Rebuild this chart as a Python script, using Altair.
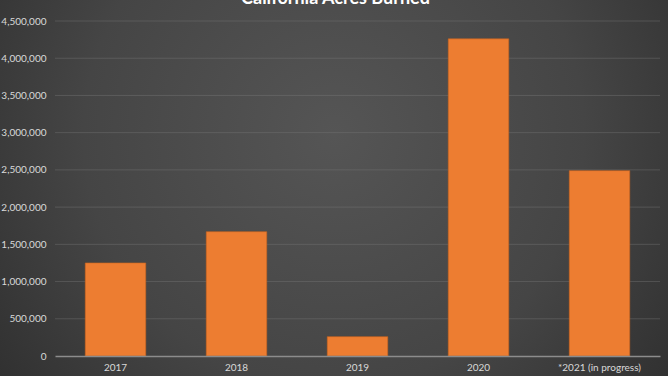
import altair as alt
import pandas as pd

years = ["2017", "2018", "2019", "2020", "*2021 (in progress)"]
acres = [1250000, 1670000, 260000, 4260000, 2490000]
grid_values = [500000, 1000000, 1500000, 2000000, 2500000, 3000000, 3500000, 4000000, 4500000]

df = pd.DataFrame({"year": years, "acres": acres})
gdf = pd.DataFrame({"v": grid_values})

W, H = 605, 335

bg = alt.Chart(pd.DataFrame({"a": [0]})).mark_rect(
    fill=alt.Gradient(
        gradient="radial",
        x1=0.5, y1=0.42, r1=0,
        x2=0.5, y2=0.42, r2=0.75,
        stops=[
            alt.GradientStop(color="#555555", offset=0),
            alt.GradientStop(color="#454545", offset=0.5),
            alt.GradientStop(color="#262626", offset=1),
        ],
    )
).encode(
    x=alt.value(-55), x2=alt.value(W + 8),
    y=alt.value(-21), y2=alt.value(H + 20),
)

yscale = alt.Scale(domain=[0, 4500000], nice=False)
yaxis = alt.Axis(values=list(range(0, 4500001, 500000)),
                 labelExpr="format(datum.value, ',.0f')",
                 labelColor="#d9d9d9", labelFont="Lato", labelFontSize=10,
                 ticks=False, domain=False, grid=False,
                 labelPadding=9, zindex=1)

grid = alt.Chart(gdf).mark_rule(color="#7a7a7a", opacity=0.4, strokeWidth=1).encode(
    y=alt.Y("v:Q", scale=yscale, axis=yaxis, title=None)
)

bars = alt.Chart(df).mark_bar(
    color="#ED7D31", stroke="#c8631f", strokeWidth=0.6
).encode(
    x=alt.X("year:N", sort=years, title=None,
            scale=alt.Scale(paddingInner=0.5, paddingOuter=0.25),
            axis=alt.Axis(labelAngle=0, labelColor="#d9d9d9", labelFont="Lato",
                          labelFontSize=10, ticks=False, domainColor="#8c8c8c",
                          domainWidth=1.5, labelPadding=6, zindex=1)),
    y=alt.Y("acres:Q", title=None, scale=yscale, axis=yaxis),
)

chart = alt.layer(bg, grid, bars).properties(
    width=W, height=H,
    title=alt.TitleParams("California Acres Burned", color="#ffffff", font="Lato",
                          fontSize=18, fontWeight="bold", frame="group",
                          anchor="middle", offset=-8, dx=-22, zindex=1),
    autosize=alt.AutoSizeParams(type="none"),
    padding={"left": 55, "top": 21, "right": 8, "bottom": 20},
    background="#2a2a2a",
).configure_view(stroke=None)

chart.save("out.html", embed_options={"renderer": "svg", "actions": False})
